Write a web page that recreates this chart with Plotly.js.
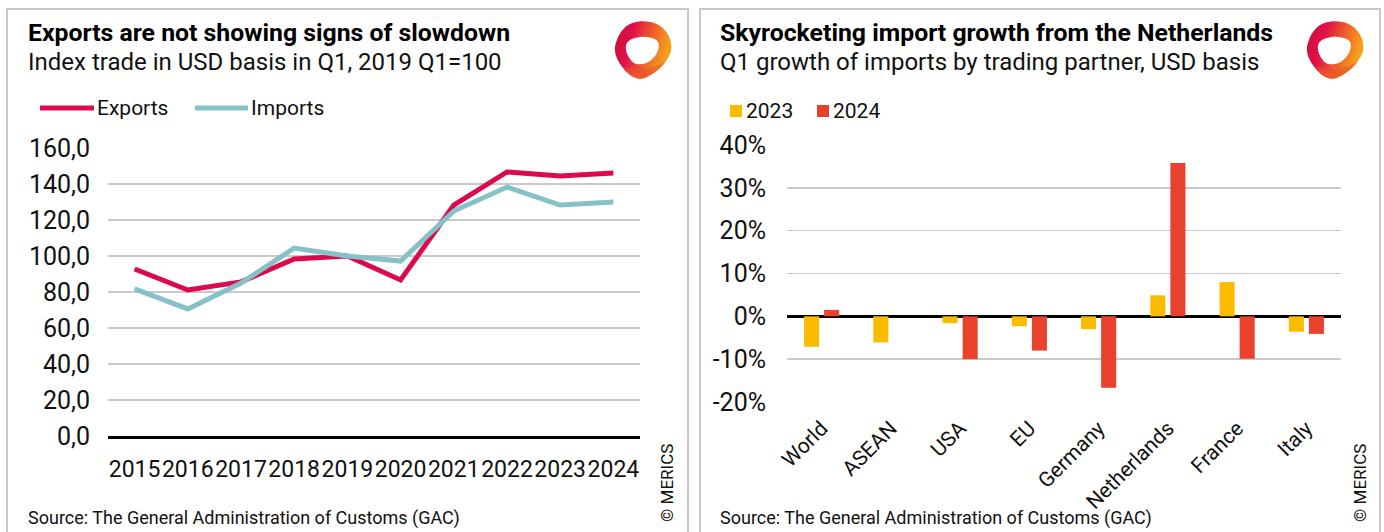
<!DOCTYPE html>
<html>
<head>
<meta charset="utf-8">
<script src="https://cdn.plot.ly/plotly-3.0.1.min.js"></script>
<style>
html,body{margin:0;padding:0;background:#fff;}
#chart{width:1384px;height:532px;}
</style>
</head>
<body>
<div id="chart"></div>
<script>
// ---- Data ----
const years = ['2015','2016','2017','2018','2019','2020','2021','2022','2023','2024'];
const exportsIdx = [92.8, 81.1, 85.6, 98.3, 100.0, 86.7, 128.3, 146.7, 144.4, 146.1];
const importsIdx = [81.7, 70.6, 85.0, 104.4, 100.0, 97.2, 125.0, 138.3, 128.3, 130.0];

const partners = ['World','ASEAN','USA','EU','Germany','Netherlands','France','Italy'];
const growth2023 = [-0.071, -0.061, -0.016, -0.023, -0.030, 0.049, 0.080, -0.036];
const growth2024 = [0.015, null, -0.100, -0.080, -0.167, 0.358, -0.099, -0.041];

const leftTickVals = [0, 20, 40, 60, 80, 100, 120, 140, 160];
const leftTickText = ['0,0','20,0','40,0','60,0','80,0','100,0','120,0','140,0','160,0'];
const rightTickVals = [-0.2, -0.1, 0, 0.1, 0.2, 0.3, 0.4];
const rightTickText = ['-20%','-10%','0%','10%','20%','30%','40%'];

const seriesNames = ['Exports', 'Imports', '2023', '2024'];
const seriesColors = ['#dc0a4c', '#85c1c7', '#fbbc00', '#e8412c'];

// ---- Layout helpers ----
const W = 1384, H = 532;
const px = v => v / W;
const py = v => (H - v) / H;
const FONT = 'Roboto, "Liberation Sans", sans-serif';
const GRID = '#c9c9c9';

const logoSvg = '<svg xmlns="http://www.w3.org/2000/svg" viewBox="0 0 57 58" width="57" height="58">' +
  '<defs><linearGradient id="g" x1="0" y1="0" x2="1" y2="0.3">' +
  '<stop offset="0" stop-color="#c8102e"/><stop offset="0.35" stop-color="#e0104a"/>' +
  '<stop offset="0.65" stop-color="#ee5a2a"/><stop offset="1" stop-color="#f4a21c"/></linearGradient>' +
  '<linearGradient id="h" x1="0" y1="0" x2="0.2" y2="1">' +
  '<stop offset="0" stop-color="#e8452c" stop-opacity="0"/><stop offset="1" stop-color="#ea5a2c" stop-opacity="0.9"/></linearGradient></defs>' +
  '<path fill="url(#g)" fill-rule="evenodd" d="M10,8 C16,1 32,-1 42,4 C52,9 58,20 56,30 C54,40 42,52 30,57 C22,60 14,54 8,46 C2,38 -1,30 2,22 C4,16 6,12 10,8 Z ' +
  'M13,22 C18,16 34,14 42,20 C46,24 44,32 38,38 C32,44 22,46 17,40 C12,34 10,27 13,22 Z"/>' +
  '<path fill="url(#h)" d="M8,46 C14,54 22,60 30,57 C42,52 50,44 53,38 C46,44 36,48 26,48 C18,48 12,46 8,46 Z"/>' +
  '</svg>';
const logoUri = 'data:image/svg+xml;base64,' + btoa(logoSvg);

const traces = [
  {x: years, y: exportsIdx, name: seriesNames[0], type: 'scatter', mode: 'lines',
   line: {color: seriesColors[0], width: 5}, xaxis: 'x', yaxis: 'y'},
  {x: years, y: importsIdx, name: seriesNames[1], type: 'scatter', mode: 'lines',
   line: {color: seriesColors[1], width: 5}, xaxis: 'x', yaxis: 'y'},
  {x: partners, y: growth2023, name: seriesNames[2], type: 'bar',
   marker: {color: seriesColors[2]}, xaxis: 'x2', yaxis: 'y2'},
  {x: partners, y: growth2024, name: seriesNames[3], type: 'bar',
   marker: {color: seriesColors[3]}, xaxis: 'x2', yaxis: 'y2'}
];

const annot = (text, x, y, opts) => Object.assign({
  text: text, xref: 'paper', yref: 'paper', x: px(x), y: py(y),
  xanchor: 'left', yanchor: 'middle', showarrow: false,
  font: {family: FONT, size: 21, color: '#111'}
}, opts || {});

const legendLine = (x0, x1, y, color) => ({type: 'line', xref: 'paper', yref: 'paper',
  x0: px(x0), x1: px(x1), y0: py(y), y1: py(y), line: {color: color, width: 5}});
const legendBox = (x0, y0, size, color) => ({type: 'rect', xref: 'paper', yref: 'paper',
  x0: px(x0), x1: px(x0 + size), y0: py(y0 + size), y1: py(y0), fillcolor: color, line: {width: 0}});

const TITLE_FONT = {family: FONT, size: 24.8, color: '#000'};
const SUB_FONT = {family: FONT, size: 24, color: '#111'};
const SRC_FONT = {family: FONT, size: 18, color: '#111'};
const LEG_FONT = {family: FONT, size: 21, color: '#111'};
const MER_FONT = {family: FONT, size: 17, color: '#111'};

const layout = {
  width: W, height: H,
  margin: {l: 0, r: 0, t: 0, b: 0, pad: 0},
  paper_bgcolor: '#fff', plot_bgcolor: 'rgba(0,0,0,0)',
  font: {family: FONT, size: 21, color: '#111'},
  showlegend: false,
  barmode: 'group', bargap: 0.42, bargroupgap: 0.25,
  xaxis: {domain: [px(108), px(640)], type: 'category', range: [-0.5, 9.5], showgrid: false,
    showline: true, linecolor: '#000', linewidth: 3, ticks: '', ticklabelstandoff: 10, tickangle: 0,
    tickfont: {family: FONT, size: 23, color: '#111'}, automargin: false, fixedrange: true},
  yaxis: {domain: [py(436), py(148)], range: [0, 160], tickvals: leftTickVals, ticktext: leftTickText,
    showgrid: true, gridcolor: GRID, gridwidth: 1.5, zeroline: false, showline: false, ticks: '',
    ticklabelstandoff: 17, tickfont: {family: FONT, size: 25, color: '#111'}, automargin: false, fixedrange: true},
  xaxis2: {domain: [px(787), px(1341)], type: 'category', anchor: 'y2', showgrid: false,
    showline: false, ticks: '', tickangle: -45, ticklabelstandoff: 9,
    tickfont: {family: FONT, size: 21, color: '#111'}, automargin: false, fixedrange: true},
  yaxis2: {domain: [py(402), py(145)], range: [-0.2, 0.4], anchor: 'x2', tickvals: rightTickVals, ticktext: rightTickText,
    showgrid: true, gridcolor: GRID, gridwidth: 1.5, zeroline: true, zerolinecolor: '#000', zerolinewidth: 3,
    ticks: '', ticklabelstandoff: 20, tickfont: {family: FONT, size: 25, color: '#111'}, automargin: false, fixedrange: true},
  shapes: [
    {type: 'path', xref: 'paper', yref: 'paper',
     path: `M ${px(7)} ${py(540)} L ${px(7)} ${py(9)} L ${px(688)} ${py(9)} L ${px(688)} ${py(540)}`,
     line: {color: '#c8c8c8', width: 2}},
    {type: 'path', xref: 'paper', yref: 'paper',
     path: `M ${px(700)} ${py(540)} L ${px(700)} ${py(9)} L ${px(1380)} ${py(9)} L ${px(1380)} ${py(540)}`,
     line: {color: '#c8c8c8', width: 2}},
    legendLine(40, 94, 108, seriesColors[0]),
    legendLine(195, 248, 108, seriesColors[1]),
    legendBox(730, 105, 12, seriesColors[2]),
    legendBox(817, 105, 12, seriesColors[3])
  ],
  images: [
    {source: logoUri, xref: 'paper', yref: 'paper', x: px(614), y: py(20), sizex: px(58), sizey: 59 / H,
     xanchor: 'left', yanchor: 'top', sizing: 'stretch', layer: 'above'},
    {source: logoUri, xref: 'paper', yref: 'paper', x: px(1306), y: py(20), sizex: px(58), sizey: 59 / H,
     xanchor: 'left', yanchor: 'top', sizing: 'stretch', layer: 'above'}
  ],
  annotations: [
    annot('<b>Exports are not showing signs of slowdown</b>', 26, 33, {font: TITLE_FONT}),
    annot('Index trade in USD basis in Q1, 2019 Q1=100', 26, 62, {font: SUB_FONT}),
    annot('<b>Skyrocketing import growth from the Netherlands</b>', 718, 33, {font: TITLE_FONT}),
    annot('Q1 growth of imports by trading partner, USD basis', 718, 62, {font: SUB_FONT}),
    annot(seriesNames[0], 95, 108, {font: LEG_FONT}),
    annot(seriesNames[1], 249, 108, {font: LEG_FONT}),
    annot(seriesNames[2], 744, 111, {font: LEG_FONT}),
    annot(seriesNames[3], 831, 111, {font: LEG_FONT}),
    annot('Source: The General Administration of Customs (GAC)', 26, 518, {font: SRC_FONT}),
    annot('Source: The General Administration of Customs (GAC)', 718, 518, {font: SRC_FONT}),
    annot('© MERICS', 667, 483, {xanchor: 'center', textangle: -90, font: MER_FONT}),
    annot('© MERICS', 1360, 483, {xanchor: 'center', textangle: -90, font: MER_FONT})
  ]
};

Plotly.newPlot('chart', traces, layout, {staticPlot: true, displayModeBar: false});
</script>
</body>
</html>
